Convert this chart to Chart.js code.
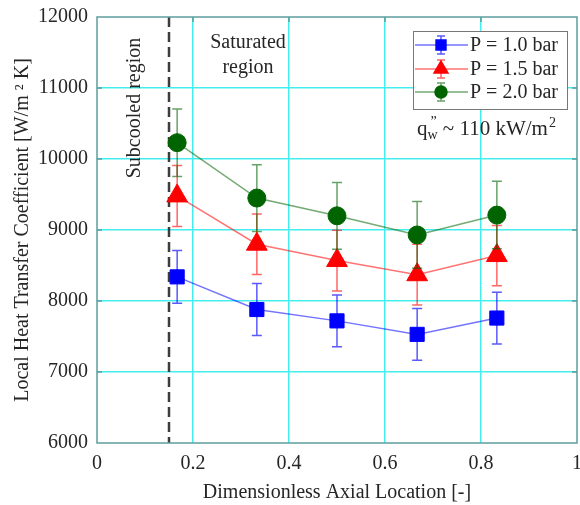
<!DOCTYPE html>
<html>
<head>
<meta charset="utf-8">
<script src="https://cdn.jsdelivr.net/npm/chart.js@4/dist/chart.umd.min.js"></script>
<style>
  body { margin: 0; background: #fff; overflow: hidden; }
  #wrap { width: 580px; height: 505px; overflow: hidden; }
  #htcChart { margin-top: -4px; display: block; }
</style>
</head>
<body>
<div id="wrap"><canvas id="htcChart" width="591" height="509"></canvas></div>
<script>
// axial locations (dimensionless) and measured HTC with uncertainty
const xLoc = [0.167, 0.333, 0.5, 0.667, 0.833];
const h10 = [8340, 7880, 7720, 7530, 7760];
const err10 = [370, 365, 365, 365, 365];
const h15 = [9480, 8800, 8570, 8370, 8640];
const err15 = [430, 425, 428, 428, 425];
const h20 = [10230, 9450, 9200, 8930, 9210];
const err20 = [475, 470, 470, 470, 475];
const seriesNames = ['P = 1.0 bar', 'P = 1.5 bar', 'P = 2.0 bar'];
const xTicks = [0, 0.2, 0.4, 0.6, 0.8, 1];
const yTicks = [6000, 7000, 8000, 9000, 10000, 11000, 12000];
const subcooledEdge = 0.15;

const FONT = '"Liberation Serif", "Times New Roman", serif';
const TEXT = '#262626';
const BOX = '#5f9d9d';
const GRID = '#45eeee';
const OFF = 4; // canvas is shifted up by this much

function pts(ys) {
  return xLoc.map((x, i) => ({ x: x, y: ys[i] }));
}

function gridColor(c) {
  if (!c.tick) return GRID;
  const s = c.scale;
  return (c.tick.value === s.min || c.tick.value === s.max) ? 'rgba(0,0,0,0)' : GRID;
}

// vertical error bars, drawn just under each dataset's line and markers
const errorBars = {
  id: 'errorBars',
  beforeDatasetDraw(chart, args) {
    const ds = chart.data.datasets[args.index];
    if (!ds.errors) return;
    const ctx = chart.ctx, ys = chart.scales.y;
    ctx.save();
    ctx.strokeStyle = ds.errorColor;
    ctx.lineWidth = 1.5;
    args.meta.data.forEach((pt, i) => {
      const v = ds.data[i].y, e = ds.errors[i];
      const top = ys.getPixelForValue(v + e), bot = ys.getPixelForValue(v - e);
      ctx.beginPath();
      ctx.moveTo(pt.x, top); ctx.lineTo(pt.x, bot);
      ctx.moveTo(pt.x - 5, top); ctx.lineTo(pt.x + 5, top);
      ctx.moveTo(pt.x - 5, bot); ctx.lineTo(pt.x + 5, bot);
      ctx.stroke();
    });
    ctx.restore();
  }
};

function drawMarker(ctx, ds, x, y, r) {
  Chart.helpers.drawPoint(ctx, {
    pointStyle: ds.pointStyle, radius: r, rotation: 0, borderWidth: 1
  }, x, y);
}

// region divider, axes box, annotations and legend
const decor = {
  id: 'decor',
  beforeDatasetsDraw(chart) {
    const ctx = chart.ctx, a = chart.chartArea;
    const x = chart.scales.x.getPixelForValue(subcooledEdge);
    ctx.save();
    ctx.strokeStyle = 'rgba(40,40,40,0.9)';
    ctx.lineWidth = 2.5;
    ctx.setLineDash([10, 5]);
    ctx.beginPath();
    ctx.moveTo(x, a.top); ctx.lineTo(x, a.bottom);
    ctx.stroke();
    ctx.restore();
  },
  afterDatasetsDraw(chart) {
    const ctx = chart.ctx, a = chart.chartArea;
    const sx = chart.scales.x, sy = chart.scales.y;
    ctx.save();
    ctx.strokeStyle = BOX;
    ctx.lineWidth = 1.5;
    ctx.strokeRect(a.left, a.top, a.right - a.left, a.bottom - a.top);
    ctx.beginPath();
    yTicks.slice(1, -1).forEach(v => {
      const p = sy.getPixelForValue(v);
      ctx.moveTo(a.left, p); ctx.lineTo(a.left + 5, p);
      ctx.moveTo(a.right, p); ctx.lineTo(a.right - 5, p);
    });
    xTicks.slice(1, -1).forEach(v => {
      const p = sx.getPixelForValue(v);
      ctx.moveTo(p, a.top); ctx.lineTo(p, a.top + 5);
    });
    ctx.stroke();
    ctx.restore();
  },
  afterDraw(chart) {
    const ctx = chart.ctx;
    ctx.save();
    ctx.translate(0, OFF);
    ctx.fillStyle = TEXT;
    ctx.font = '20px ' + FONT;
    ctx.textBaseline = 'middle';
    ctx.textAlign = 'center';
    ctx.fillText('Saturated', 248, 43);
    ctx.fillText('region', 248, 68);

    ctx.save();
    ctx.translate(135, 108);
    ctx.rotate(-Math.PI / 2);
    ctx.fillText('Subcooled region', 0, 0);
    ctx.restore();

    // heat flux note
    ctx.textAlign = 'left';
    ctx.textBaseline = 'alphabetic';
    let x = 417;
    const base = 135;
    ctx.font = '21px ' + FONT;
    ctx.fillText('q', x, base); x += ctx.measureText('q').width;
    ctx.font = '14px ' + FONT;
    ctx.fillText('w', x, base + 4);
    ctx.fillText('\u201D', x + 3, base - 9);
    x += ctx.measureText('w').width;
    ctx.font = '21px ' + FONT;
    const mid = ' ~ 110 kW/m';
    ctx.fillText(mid, x, base); x += ctx.measureText(mid).width;
    ctx.font = '14px ' + FONT;
    ctx.fillText('2', x + 1, base - 8);

    // legend
    const lx = 413, ly = 31, lw = 154, lh = 78;
    ctx.fillStyle = '#fff';
    ctx.fillRect(lx, ly, lw, lh);
    ctx.strokeStyle = '#777';
    ctx.lineWidth = 1;
    ctx.strokeRect(lx + 0.5, ly + 0.5, lw, lh);
    const rowY = [45, 69, 92];
    const mSize = [7, 8, 6];
    chart.data.datasets.forEach((ds, i) => {
      const y = rowY[i];
      ctx.strokeStyle = ds.borderColor;
      ctx.lineWidth = 1.5;
      ctx.beginPath();
      ctx.moveTo(lx + 2, y); ctx.lineTo(lx + 55, y);
      ctx.stroke();
      ctx.strokeStyle = ds.errorColor;
      ctx.beginPath();
      ctx.moveTo(441, y - 9); ctx.lineTo(441, y + 9);
      ctx.moveTo(437, y - 9); ctx.lineTo(445, y - 9);
      ctx.moveTo(437, y + 9); ctx.lineTo(445, y + 9);
      ctx.stroke();
      ctx.fillStyle = ds.pointBackgroundColor;
      ctx.strokeStyle = ds.pointBackgroundColor;
      drawMarker(ctx, ds, 441, y, mSize[i]);
      ctx.fillStyle = TEXT;
      ctx.font = '20px ' + FONT;
      ctx.textBaseline = 'middle';
      ctx.fillText(seriesNames[i], 470, y + 1);
    });
    ctx.restore();
  }
};

const datasets = [
  {
    data: pts(h10), errors: err10, order: 2,
    borderColor: 'rgba(0,0,255,0.55)', errorColor: 'rgba(0,0,255,0.65)',
    pointBackgroundColor: '#0000ff', pointBorderColor: '#0000ff',
    pointStyle: 'rect', pointRadius: 10
  },
  {
    data: pts(h15), errors: err15, order: 1,
    borderColor: 'rgba(255,0,0,0.55)', errorColor: 'rgba(255,0,0,0.6)',
    pointBackgroundColor: '#ff0000', pointBorderColor: '#ff0000',
    pointStyle: 'triangle', pointRadius: 12
  },
  {
    data: pts(h20), errors: err20, order: 0,
    borderColor: 'rgba(0,100,0,0.55)', errorColor: 'rgba(0,100,0,0.6)',
    pointBackgroundColor: '#006400', pointBorderColor: '#006400',
    pointStyle: 'circle', pointRadius: 9
  }
];
datasets.forEach(d => {
  d.borderWidth = 1.5;
  d.pointBorderWidth = 1;
  d.fill = false;
  d.tension = 0;
  d.showLine = true;
});

new Chart(document.getElementById('htcChart').getContext('2d'), {
  type: 'line',
  data: { datasets: datasets },
  plugins: [errorBars, decor],
  options: {
    responsive: false,
    animation: false,
    layout: { padding: { top: 1, left: 0, right: 0, bottom: 0 } },
    plugins: { legend: { display: false }, tooltip: { enabled: false } },
    scales: {
      x: {
        type: 'linear', min: 0, max: 1,
        afterBuildTicks: s => { s.ticks = xTicks.map(v => ({ value: v })); },
        afterFit: s => { s.height = 62; },
        grid: { color: gridColor, lineWidth: 1.5, drawTicks: false },
        border: { display: false },
        ticks: {
          color: TEXT, font: { family: FONT, size: 20 }, padding: 9, maxRotation: 0,
          callback: v => String(v)
        },
        title: {
          display: true, text: 'Dimensionless Axial Location [-]',
          color: TEXT, font: { family: FONT, size: 20 }, padding: { top: 0, bottom: 0 }
        }
      },
      y: {
        type: 'linear', min: 6000, max: 12000,
        afterBuildTicks: s => { s.ticks = yTicks.map(v => ({ value: v })); },
        afterFit: s => { s.width = 97; },
        grid: { color: gridColor, lineWidth: 1.5, drawTicks: false },
        border: { display: false },
        ticks: {
          color: TEXT, font: { family: FONT, size: 20 }, padding: 9,
          callback: v => String(v)
        },
        title: {
          display: true, text: 'Local Heat Transfer Coefficient [W/m \u00B2 K]',
          color: TEXT, font: { family: FONT, size: 20 }, padding: { top: 11, bottom: 0 }
        }
      }
    }
  }
});
</script>
</body>
</html>
